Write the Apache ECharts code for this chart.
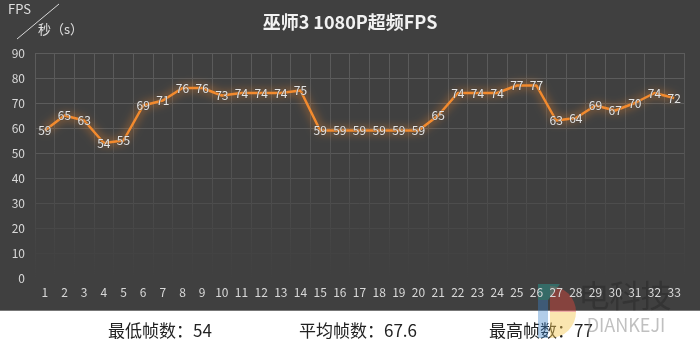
<!DOCTYPE html>
<html>
<head>
<meta charset="utf-8">
<script src="https://cdn.jsdelivr.net/npm/echarts@6/dist/echarts.min.js"></script>
<style>
  html, body { margin: 0; padding: 0; background: #fff; }
  #main { width: 700px; height: 351px; }
</style>
</head>
<body>
<div id="main"></div>
<script>
// 数据
const seconds = ['1', '2', '3', '4', '5', '6', '7', '8', '9', '10', '11', '12', '13', '14', '15', '16', '17',
  '18', '19', '20', '21', '22', '23', '24', '25', '26', '27', '28', '29', '30', '31', '32', '33'];
const fps = [59, 65, 63, 54, 55, 69, 71, 76, 76, 73, 74, 74, 74, 75, 59, 59, 59, 59, 59, 59, 65,
  74, 74, 74, 77, 77, 63, 64, 69, 67, 70, 74, 72];
const summary = ['最低帧数：54', '平均帧数：67.6', '最高帧数：77'];

const font = '"Noto Sans CJK SC", "Noto Sans", sans-serif';
const myChart = echarts.init(document.getElementById('main'));

myChart.setOption({
  backgroundColor: '#404040',
  textStyle: { fontFamily: font },
  title: {
    text: '巫师3 1080P超频FPS',
    left: 'center',
    top: 8,
    textStyle: { color: '#f2f2f2', fontSize: 18, fontWeight: 'bold', fontFamily: font },
  },
  grid: { left: 35, right: 16, top: 53, bottom: 73 },
  xAxis: {
    type: 'category',
    data: seconds,
    boundaryGap: true,
    axisLine: { show: false },
    axisTick: { show: false },
    axisLabel: { color: '#d8d8d8', fontSize: 12, margin: 8, interval: 0 },
    splitLine: {
      show: true,
      interval: 0,
      lineStyle: {
        // 网格线向下渐隐
        color: new echarts.graphic.LinearGradient(0, 53, 0, 278, [
          { offset: 0, color: '#5c5c5c' },
          { offset: 0.5, color: '#525252' },
          { offset: 0.85, color: '#444444' },
          { offset: 1, color: '#404040' },
        ], true),
        width: 1,
      },
    },
  },
  yAxis: {
    type: 'value',
    min: 0,
    max: 90,
    interval: 10,
    axisLine: { show: false },
    axisTick: { show: false },
    axisLabel: { color: '#d8d8d8', fontSize: 12, margin: 10 },
    splitLine: {
      lineStyle: {
        color: ['#404040', '#434343', '#484848', '#4d4d4d', '#535353', '#585858', '#5a5a5a', '#5c5c5c', '#5c5c5c', '#5c5c5c'],
      },
    },
  },
  series: [{
    name: 'FPS',
    type: 'line',
    data: fps,
    symbol: 'circle',
    symbolSize: 1,
    showSymbol: true,
    itemStyle: { color: 'rgba(0,0,0,0)' },
    lineStyle: {
      color: '#f28a2e',
      width: 2.5,
      shadowColor: 'rgba(255, 140, 40, 1)',
      shadowBlur: 10,
    },
    label: {
      show: true,
      position: 'inside',
      color: '#e4e4e4',
      fontSize: 12,
      textBorderColor: 'rgba(64,64,64,0.5)',
      textBorderWidth: 1,
    },
  }],
  graphic: [
    { type: 'text', left: 8, top: 3, style: { text: 'FPS', fill: '#e0e0e0', font: '13px ' + font } },
    { type: 'line', shape: { x1: 17, y1: 39, x2: 59, y2: 4 }, style: { stroke: '#d8d8d8', lineWidth: 1 } },
    { type: 'text', left: 38, top: 23, style: { text: '秒（s）', fill: '#e0e0e0', font: '13px ' + font } },
    { type: 'rect', shape: { x: 0, y: 311, width: 700, height: 40 }, style: { fill: '#ffffff' } },
    { type: 'rect', shape: { x: 0, y: 310, width: 700, height: 1 }, style: { fill: '#777' } },
    { type: 'text', x: 160, y: 331, style: { text: summary[0], fill: '#222', font: '17px ' + font, align: 'center', verticalAlign: 'middle' } },
    { type: 'text', x: 358, y: 331, style: { text: summary[1], fill: '#222', font: '17px ' + font, align: 'center', verticalAlign: 'middle' } },
    { type: 'text', x: 541, y: 331, style: { text: summary[2], fill: '#222', font: '17px ' + font, align: 'center', verticalAlign: 'middle' } },
    // 水印
    { type: 'sector', shape: { cx: 550, cy: 312, r: 26, r0: 0, startAngle: -Math.PI / 2, endAngle: 0 }, style: { fill: 'rgba(220,70,60,0.45)' } },
    { type: 'sector', shape: { cx: 550, cy: 312, r: 26, r0: 0, startAngle: 0, endAngle: Math.PI / 2 }, style: { fill: 'rgba(245,200,80,0.45)' } },
    { type: 'polygon', shape: { points: [[538, 284], [560, 284], [548, 300], [538, 300]] }, style: { fill: 'rgba(40,160,150,0.45)' } },
    { type: 'polygon', shape: { points: [[538, 300], [548, 300], [548, 338], [538, 338]] }, style: { fill: 'rgba(60,130,200,0.4)' } },
    { type: 'text', x: 625, y: 295, style: { text: '电科技', fill: 'rgba(40,40,40,0.5)', font: '31px ' + font, align: 'center', verticalAlign: 'middle' } },
    { type: 'text', x: 626, y: 325, style: { text: 'DIANKEJI', fill: 'rgba(150,150,150,0.6)', font: '18px ' + font, align: 'center', verticalAlign: 'middle' } },
  ],
});
</script>
</body>
</html>
